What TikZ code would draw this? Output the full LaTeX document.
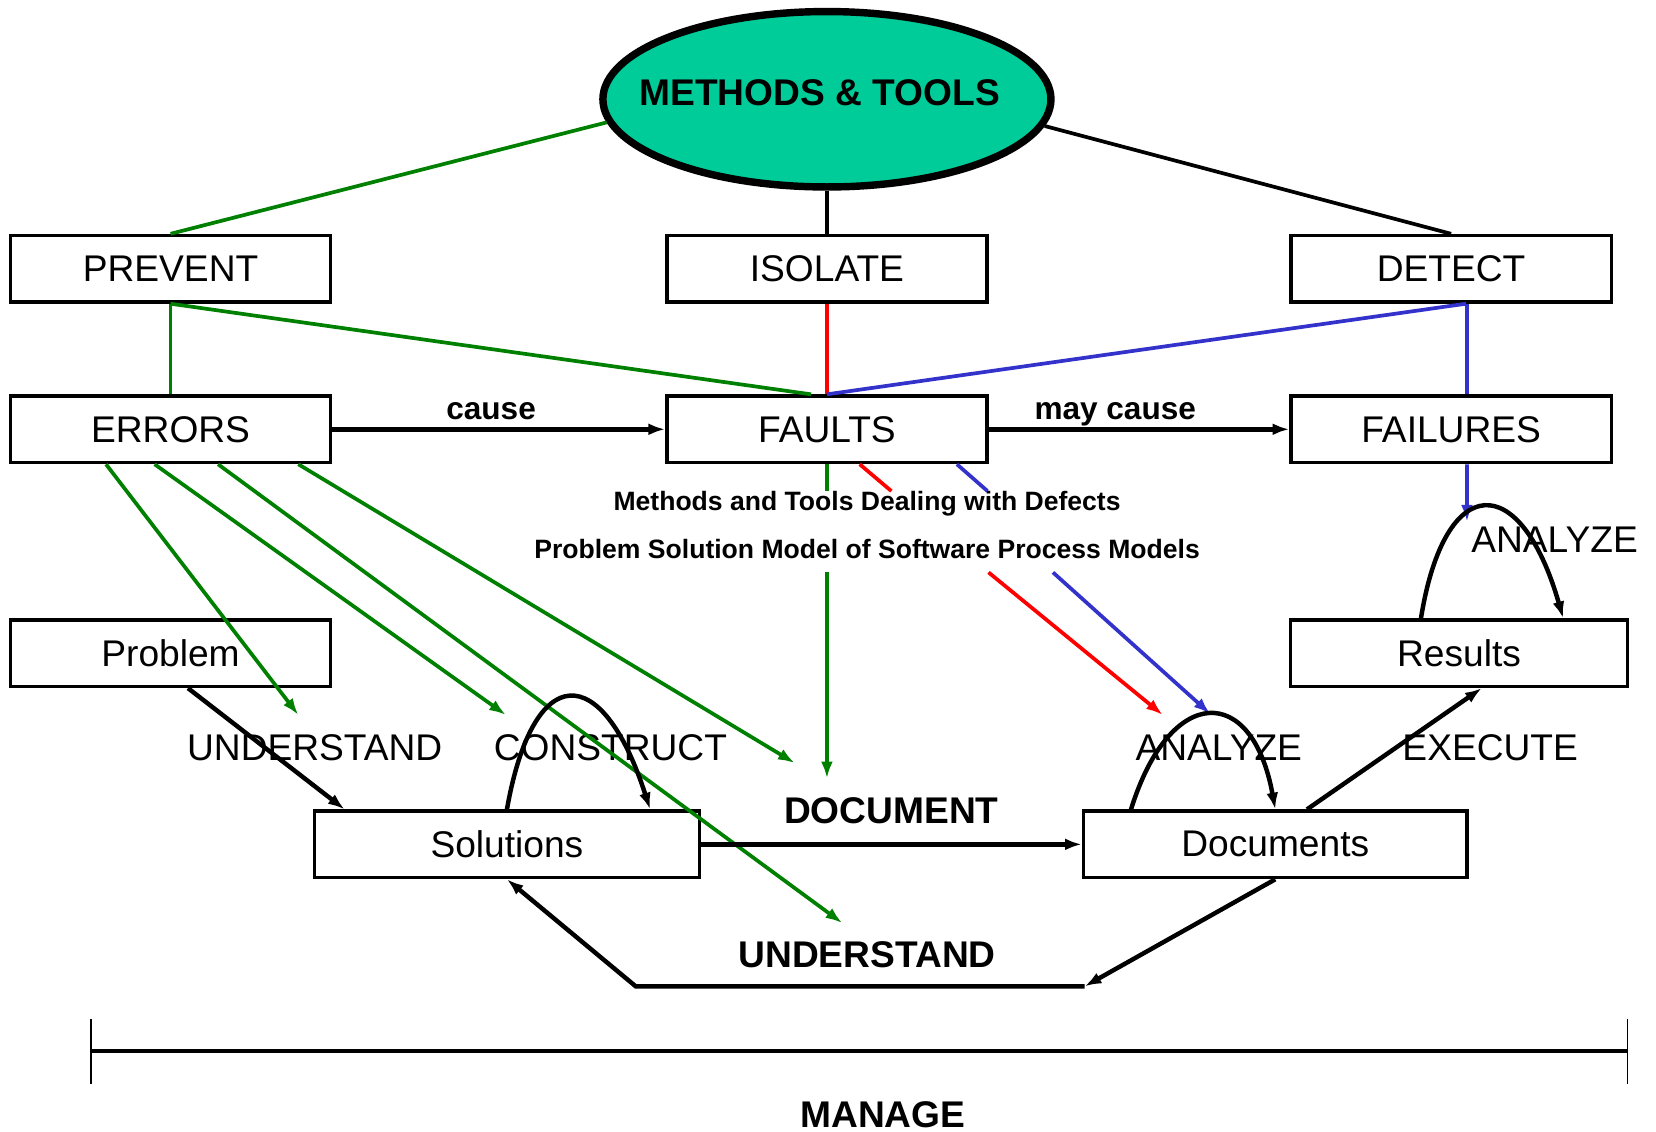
\documentclass[tikz,border=0pt]{standalone}
\usepackage{fontspec}
\setmainfont{Liberation Sans}
\usepackage{tikz}
\usepackage{xcolor}
\usetikzlibrary{arrows.meta,shapes.geometric}

\definecolor{mtgreen}{RGB}{0,128,0}
\definecolor{mtblue}{RGB}{51,51,204}
\definecolor{mtred}{RGB}{255,0,0}
\definecolor{mtteal}{RGB}{0,204,153}

\begin{document}
\begin{tikzpicture}[x=0.01cm,y=-0.01cm]
			%\draw[help lines] (0,0) grid (1568,1071);
			\tikzset{
			box/.style 		= {draw, line width=0.9pt, rectangle, minimum width=3.03cm, minimum height=0.63cm, inner sep=0pt},
			rel/.style 		= {font=\fontsize{8.5}{10}\selectfont\bfseries, inner sep=0pt, anchor=base},
			caption/.style 	= {font=\fontsize{7.15}{9}\selectfont\bfseries, inner sep=0pt, anchor=base},
			act/.style 		= {inner sep=0pt, anchor=base},
			actbold/.style 	= {font=\bfseries, inner sep=0pt, anchor=base},
			con/.style 		= {line width=1pt},
			arr/.style 		= {line width=1.2pt, -{Latex[length=4.5pt,width=3.2pt]}},
			garr/.style 	= {line width=1pt, mtgreen, -{Latex[length=4.5pt,width=3.2pt]}}}
			\useasboundingbox (0,0) rectangle (1568,1071);
			
			\node[ellipse, draw, line width=2pt, fill=mtteal, minimum width=4.24cm, minimum height=1.66cm, inner sep=0pt, font=\bfseries] (methods) at (783,94) {\smash{\raisebox{-0.06cm}{\makebox[0pt]{METHODS \& TOOLS\hspace{0.14cm}}}}};
			
			\node[box] (prevent) at (161.5,254.5) {PREVENT};
			\node[box] (isolate) at (783,254.5) {ISOLATE};
			\node[box] (detect) at (1374,254.5) {DETECT};
			\node[box] (errors) at (161.5,406.5) {ERRORS};
			\node[box] (faults) at (783,406.5) {FAULTS};
			\node[box] (failures) at (1374,406.5) {FAILURES};
			\node[box] (problem) at (161.5,618.5) {Problem};
			\node[box, minimum width=3.19cm] (results) at (1381.5,618.5) {Results};
			\node[box, minimum width=3.64cm] (solutions) at (480,799.5) {Solutions};
			\node[box, minimum width=3.63cm] (documents) at (1207.5,799.5) {Documents};
			
			\node[rel] (cause) at (465,397) {cause};
			\node[rel] (maycause) at (1056,397) {may cause};
			\node[caption] (mtdd) at (821,483) {Methods and Tools Dealing with Defects};
			\node[caption] (psm) at (821,529) {Problem Solution Model of Software Process Models};
			\node[act] (understand) at (298,720) {UNDERSTAND};
			\node[act] (construct) at (578,720) {CONSTRUCT};
			\node[act] (analyzedoc) at (1154,720) {ANALYZE};
			\node[act] (execute) at (1411,720) {EXECUTE};
			\node[act] (analyzeres) at (1472,523) {ANALYZE};
			\node[actbold] (document) at (844,780) {DOCUMENT};
			\node[actbold] (understandback) at (821,916) {UNDERSTAND};
			\node[actbold] (manage) at (836,1068) {MANAGE};
			
			% free ends
			\coordinate (e1) at (282.5,677);
			\coordinate (e2) at (479,677);
			\coordinate (e3) at (797.5,874);
			\coordinate (e4) at (752.5,722.5);
			\coordinate (gs) at (783,465);
			\coordinate (rs) at (844,465);
			\coordinate (bs) at (935,465);
			\coordinate (gt) at (783,542);
			\coordinate (rt) at (936,542);
			\coordinate (bt) at (997,542);
			\coordinate (gd) at (783,737);
			\coordinate (rd) at (1101,677);
			\coordinate (bd) at (1146,676);
			\coordinate (fa) at (1389,494);
			\coordinate (ubr) at (1027,934);
			\coordinate (ubl) at (602,934);
			\coordinate (ml) at (86,995);
			\coordinate (mr) at (1541,995);
			
			\draw[con, mtgreen] (methods.186) -- (prevent.north);
			\draw[con] (methods.south) -- (isolate.north);
			\draw[con] (methods.-7) -- (detect.north);
			
			\draw[con, mtgreen] (prevent.south) -- (errors.north);
			\draw[con, mtgreen] (prevent.south) -- ([xshift=-0.15cm]faults.north);
			\draw[con, mtred] (isolate.south) -- (faults.north);
			\draw[con, mtblue] ([xshift=0.14cm]detect.south) -- (faults.north);
			\draw[con, mtblue] ([xshift=0.15cm]detect.south) -- ([xshift=0.15cm]failures.north);
			
			\draw[arr] (errors.east) -- (faults.west);
			\draw[arr] (faults.east) -- (failures.west);
			
			\draw[con, mtgreen] (faults.south) -- (gs);
			\draw[con, mtred] ([xshift=0.31cm]faults.south) -- (rs);
			\draw[con, mtblue] ([xshift=1.23cm]faults.south) -- (bs);
			\draw[garr] (gt) -- (gd);
			\draw[arr, line width=1pt, mtred] (rt) -- (rd);
			\draw[arr, line width=1pt, mtblue] (bt) -- (bd);
			\draw[arr, line width=1pt, mtblue] ([xshift=0.15cm]failures.south) -- (fa);
			
			\draw[garr] ([xshift=0.92cm]errors.south west) -- (e1);
			\draw[garr] ([xshift=1.38cm]errors.south west) -- (e2);
			\draw[garr] ([xshift=1.98cm]errors.south west) -- (e3);
			\draw[garr] ([xshift=2.74cm]errors.south west) -- (e4);
			
			\draw[arr] ([xshift=0.165cm]problem.south) -- ([xshift=0.3cm]solutions.north west);
			\draw[arr] (solutions.north) .. controls (505,625) and (570,625) .. ([xshift=1.355cm]solutions.north);
			\draw[arr] (solutions.east) -- (documents.west);
			\draw[arr] ([xshift=-1.365cm]documents.north) .. controls (1108,647) and (1186,647) .. (documents.north);
			\draw[arr] ([xshift=0.3cm]documents.north) -- ([xshift=0.215cm]results.south);
			\draw[arr] ([xshift=-0.36cm]results.north) .. controls (1368,445) and (1440,445) .. ([xshift=0.985cm]results.north);
			\draw[arr] (documents.south) -- (ubr);
			\draw[arr] (ubr) -- (ubl) -- (solutions.south);
			
			\draw[line width=1pt] (ml) -- (mr);
			\draw[thin] ([yshift=0.3cm]ml) -- ([yshift=-0.31cm]ml);
			\draw[thin] ([yshift=0.3cm]mr) -- ([yshift=-0.31cm]mr);
\end{tikzpicture}
\end{document}
